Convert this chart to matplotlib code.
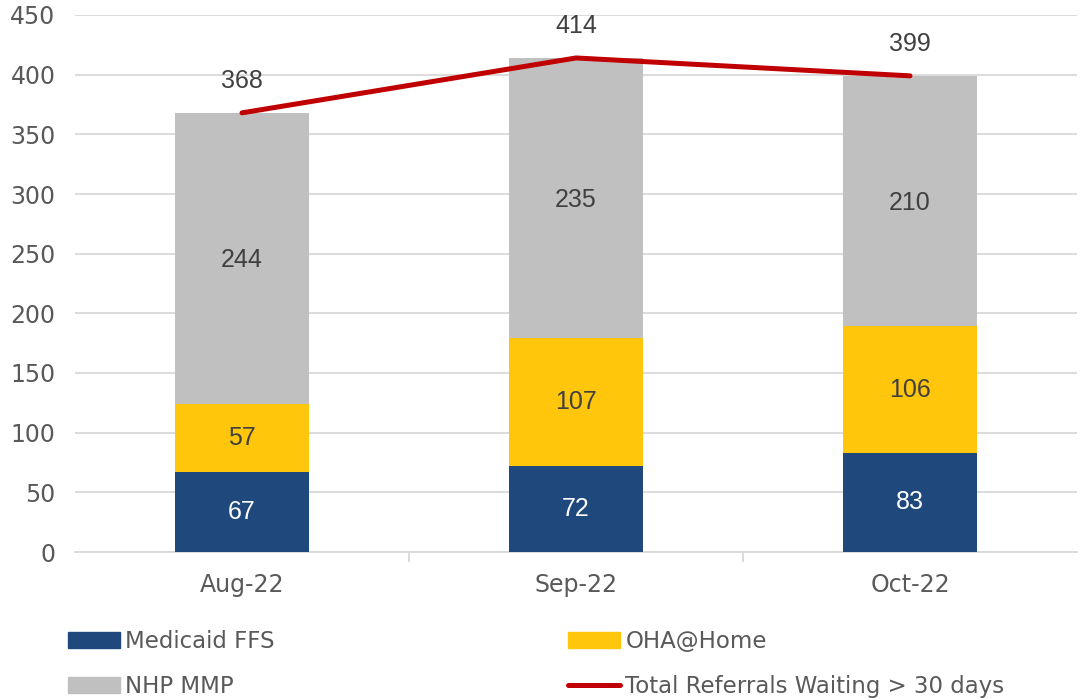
import matplotlib
matplotlib.use("Agg")
import matplotlib.pyplot as plt
from matplotlib.patches import Patch
from matplotlib.lines import Line2D

categories = ["Aug-22", "Sep-22", "Oct-22"]
medicaid_ffs = [67, 72, 83]
oha_home = [57, 107, 106]
nhp_mmp = [244, 235, 210]
total_waiting = [368, 414, 399]

c_ffs = "#1F497D"
c_oha = "#FFC60B"
c_nhp = "#C0C0C0"
c_tot = "#C00000"
txt = "#595959"
narrow = ["Liberation Sans Narrow", "DejaVu Sans"]
reg = ["Liberation Sans", "DejaVu Sans"]

fig = plt.figure(figsize=(10.81, 6.98), dpi=100)
ax = fig.add_axes([75/1081, 1-552/698, 1002/1081, 537/698])

x = list(range(len(categories)))
w = 0.4
ax.bar(x, medicaid_ffs, w, color=c_ffs, zorder=3)
bottom2 = medicaid_ffs
ax.bar(x, oha_home, w, bottom=bottom2, color=c_oha, zorder=3)
bottom3 = [a + b for a, b in zip(medicaid_ffs, oha_home)]
ax.bar(x, nhp_mmp, w, bottom=bottom3, color=c_nhp, zorder=3)
ax.plot(x, total_waiting, color=c_tot, lw=3.6, solid_capstyle="round", zorder=4)

fs_lab = 18
for i in x:
    ax.text(i, medicaid_ffs[i] / 2, str(medicaid_ffs[i]), ha="center", va="center",
            color="white", fontsize=fs_lab, family=reg, zorder=5)
    ax.text(i, bottom2[i] + oha_home[i] / 2, str(oha_home[i]), ha="center", va="center",
            color="#404040", fontsize=fs_lab, family=reg, zorder=5)
    ax.text(i, bottom3[i] + nhp_mmp[i] / 2 - 1.5, str(nhp_mmp[i]), ha="center", va="center",
            color="#404040", fontsize=fs_lab, family=reg, zorder=5)
    ax.annotate(str(total_waiting[i]), (i, total_waiting[i]), xytext=(0, 23),
                textcoords="offset points", ha="center", va="center",
                color="#404040", fontsize=fs_lab, family=reg, zorder=5)

ax.set_xlim(-0.5, 2.5)
ax.set_ylim(0, 450)
ax.set_yticks(range(0, 451, 50))
ax.yaxis.grid(True, color="#D9D9D9", lw=1.3, zorder=0)
ax.set_axisbelow(True)
for s in ["top", "right", "left"]:
    ax.spines[s].set_visible(False)
ax.spines["bottom"].set_color("#D9D9D9")
ax.spines["bottom"].set_linewidth(1.3)
ax.tick_params(axis="y", length=0, pad=14, labelsize=17, labelcolor=txt)
ax.set_xticks(x)
ax.set_xticklabels(categories)
ax.tick_params(axis="x", length=0, pad=15, labelsize=17, labelcolor=txt)
ax.set_xticks([0.5, 1.5], minor=True)
ax.tick_params(axis="x", which="minor", length=7, width=1.3, color="#D9D9D9")
for lab in ax.get_xticklabels() + ax.get_yticklabels():
    lab.set_family(narrow)

h_ffs = Patch(color=c_ffs)
h_oha = Patch(color=c_oha)
h_nhp = Patch(color=c_nhp)
h_tot = Line2D([0], [0], color=c_tot, lw=3.6, solid_capstyle="round")

leg_kw = dict(frameon=False, prop={"family": narrow, "size": 16.5}, labelcolor=txt,
              handlelength=2.25, handletextpad=0.25, labelspacing=0.95,
              borderaxespad=0, borderpad=0)
fig.legend([h_ffs, h_nhp], ["Medicaid FFS", "NHP MMP"], loc="upper left",
           bbox_to_anchor=(68/1081, 1-630/698), **leg_kw)
fig.legend([h_oha, h_tot], ["OHA@Home", "Total Referrals Waiting > 30 days"],
           loc="upper left", bbox_to_anchor=(568/1081, 1-630/698), **leg_kw)

fig.savefig("out.png", dpi=100, facecolor="white")
